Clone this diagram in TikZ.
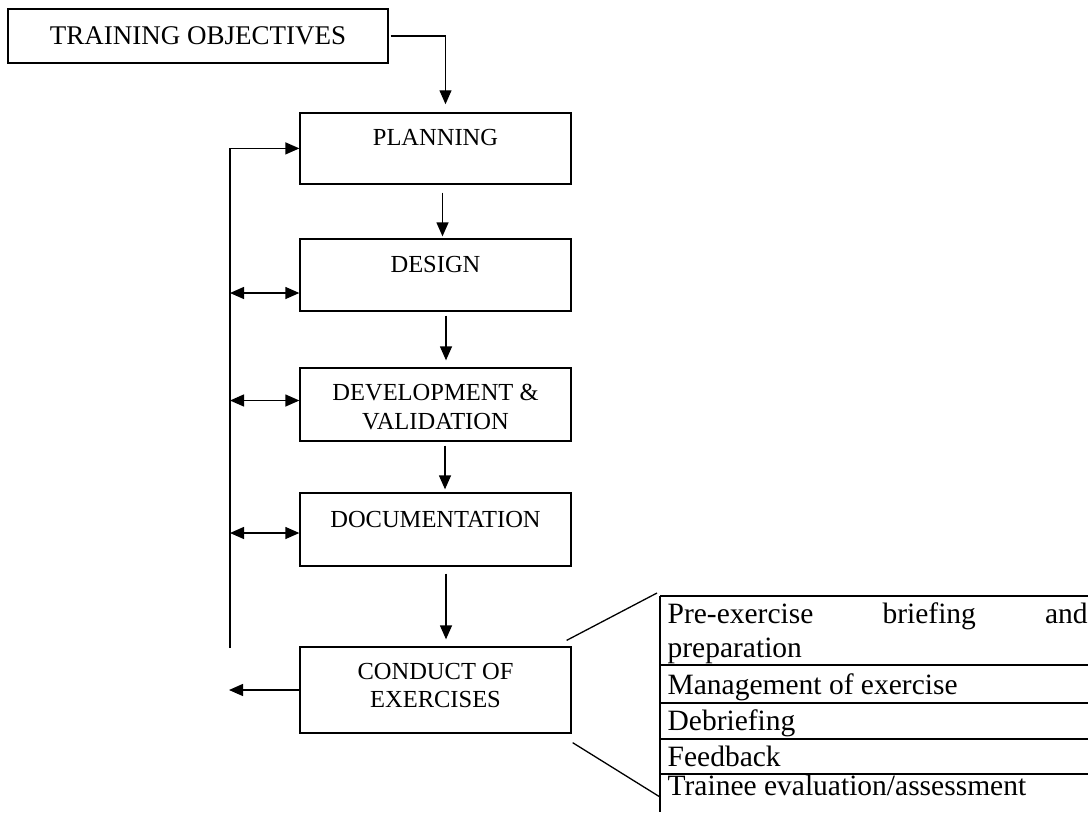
\documentclass[tikz,border=0pt]{standalone}
\usepackage{fontspec}
\setmainfont{Liberation Serif}
\usetikzlibrary{arrows.meta}
\begin{document}
\begin{tikzpicture}[x=1pt, y=-1pt, line width=1.3pt,
        >={Triangle[length=14pt, width=12pt]},
        stage/.style={draw, minimum width=271pt, inner sep=0pt, align=center,
            text height=17pt, font=\fontsize{24.5}{28.7}\selectfont},
        item/.style={inner sep=0pt, anchor=base west,
            font=\fontsize{29.5}{34}\selectfont}]
    \useasboundingbox ( 0, 0 ) rectangle ( 1088, 812 );

    % блоки
    \node [stage, minimum width=380pt, minimum height=54pt, text depth=0pt,
        font=\fontsize{27}{32}\selectfont] (obj) at ( 198, 36 ) {TRAINING OBJECTIVES};
    \node [stage, minimum height=71pt, text depth=22pt] (plan) at ( 435.5, 148.4 ) {PLANNING};
    \node [stage, minimum height=72pt, text depth=22pt] (design) at ( 435.5, 275 ) {DESIGN};
    \node [stage, minimum height=73pt, text height=50pt, text depth=0.4pt] (devel) at ( 435.5, 404.5 ) {DEVELOPMENT \&\\VALIDATION};
    \node [stage, minimum height=73pt, text depth=22pt] (docs) at ( 435.5, 529.5 ) {DOCUMENTATION};
    \node [stage, minimum height=86pt, text height=46pt, text depth=10.6pt] (cond) at ( 435.5, 690 ) {CONDUCT OF\\EXERCISES};

    % стрелки вниз
    \draw [->] ([xshift=2pt]obj.east) -| ([xshift=10pt, yshift=8pt]plan.north);
    \draw [->] ([xshift=7pt, yshift=-8pt]plan.south) -- ([xshift=7pt, yshift=2pt]design.north);
    \draw [->] ([xshift=10.5pt, yshift=-4pt]design.south) -- ([xshift=10.5pt, yshift=7pt]devel.north);
    \draw [->] ([xshift=9.5pt, yshift=-4pt]devel.south) -- ([xshift=9.5pt, yshift=3pt]docs.north);
    \draw [->] ([xshift=10.5pt, yshift=-7pt]docs.south) -- ([xshift=10.5pt, yshift=7pt]cond.north);

    % обратная связь
    \coordinate (fb) at ( 230, 648 );
    \coordinate (ret) at ( 229, 690 );
    \draw [->] (fb) |- (plan.west);
    \draw [<->] ([yshift=-18pt]design.west -| fb) -- ([yshift=-18pt]design.west);
    \draw [<->] ([yshift=4pt]devel.west -| fb) -- ([yshift=4pt]devel.west);
    \draw [<->] ([yshift=-3.5pt]docs.west -| fb) -- ([yshift=-3.5pt]docs.west);
    \draw [->] (cond.west) -- (ret);

    % таблица
    \coordinate (tab) at ( 660, 596 );
    \coordinate (tabend) at ( 660, 797 );
    \draw ([xshift=-5pt, yshift=6pt]cond.north east) -- ([xshift=-3pt, yshift=3pt]tab);
    \draw ([xshift=1pt, yshift=-9pt]cond.south east) -- (tabend);
    \draw (tab) -- ( 660, 812 );
    \draw (tab) -- ( 1088, 596 );
    \draw ( 660, 665 ) -- ( 1088, 665 );
    \draw ( 660, 703 ) -- ( 1088, 703 );
    \draw ( 660, 739 ) -- ( 1088, 739 );
    \draw ( 660, 774 ) -- ( 1088, 774 );

    \node [item, text width=420pt, align=left] (brief) at ( 667, 623 ) {Pre-exercise\hfill briefing\hfill and\\preparation};
    \node [item] (manage) at ( 667, 694 ) {Management of exercise};
    \node [item] (debrief) at ( 667, 730 ) {Debriefing};
    \node [item] (feedback) at ( 667, 766.5 ) {Feedback};
    \node [item] (assess) at ( 667, 795 ) {Trainee evaluation/assessment};
\end{tikzpicture}
\end{document}
